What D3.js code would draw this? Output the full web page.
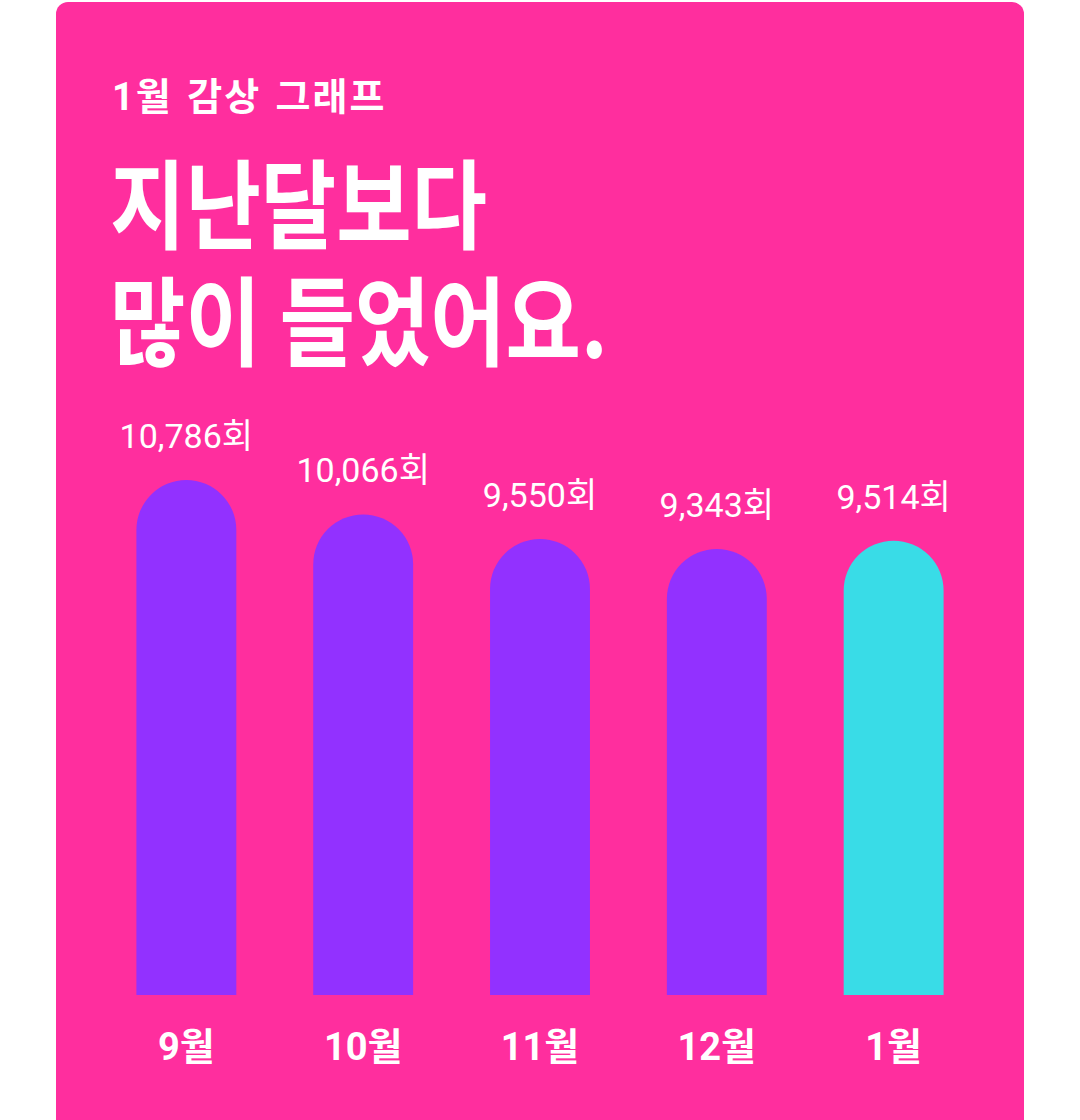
<!DOCTYPE html>
<html>
<head>
<meta charset="utf-8">
<script src="https://cdn.jsdelivr.net/npm/d3@7"></script>
<style>
  html, body { margin: 0; padding: 0; background: #ffffff; }
  svg { display: block; }
</style>
</head>
<body>
<svg id="chart" width="1080" height="1120"></svg>
<script>
const months = ["9월", "10월", "11월", "12월", "1월"];
const plays = [10786, 10066, 9550, 9343, 9514];
const highlight = [false, false, false, false, true];
const subtitle = "1월 감상 그래프";
const headline = ["지난달보다", "많이 들었어요."];
const unit = "회";

const svg = d3.select("#chart");
const pink = "#FF2E9E", purple = "#9231FF", cyan = "#39DCE7";

svg.append("rect").attr("x", 56).attr("y", 2).attr("width", 968).attr("height", 1140)
  .attr("rx", 12).attr("fill", pink);

svg.append("text").attr("x", 112).attr("y", 110)
  .attr("font-family", "Roboto, 'Noto Sans CJK KR', sans-serif")
  .attr("font-weight", 700).attr("font-size", 38).attr("letter-spacing", 2)
  .attr("word-spacing", 3).attr("fill", "#fff")
  .text(subtitle);

const head = svg.append("text")
  .attr("transform", "translate(110,241) scale(0.845,1)")
  .attr("font-family", "'Noto Sans CJK KR', sans-serif")
  .attr("font-weight", 700).attr("font-size", 97)
  .attr("fill", "#fff");
head.selectAll("tspan").data(headline).join("tspan")
  .attr("x", 0).attr("y", (d, i) => i * 117)
  .text(d => d);

const x = d3.scaleBand().domain(months).range([48, 1032]).paddingInner(0.435).paddingOuter(0.5);
const y = d3.scaleLinear().domain([0, d3.max(plays)]).range([995, 480]);

const data = months.map((m, i) => ({ m, v: plays[i], h: highlight[i] }));

function barPath(d) {
  const x0 = x(d.m), w = x.bandwidth(), r = w / 2, top = y(d.v), bottom = y(0);
  return `M${x0},${bottom}L${x0},${top + r}A${r},${r} 0 0 1 ${x0 + w},${top + r}L${x0 + w},${bottom}Z`;
}

svg.selectAll("path.bar").data(data).join("path").attr("class", "bar")
  .attr("d", barPath).attr("fill", d => d.h ? cyan : purple);

svg.selectAll("text.val").data(data).join("text").attr("class", "val")
  .attr("x", d => x(d.m) + x.bandwidth() / 2).attr("y", d => y(d.v) - 32)
  .attr("text-anchor", "middle")
  .attr("font-family", "Roboto, 'Noto Sans CJK KR', sans-serif")
  .attr("font-weight", 400).attr("font-size", 34).attr("fill", "#fff")
  .text(d => d3.format(",")(d.v) + unit);

svg.selectAll("text.mon").data(data).join("text").attr("class", "mon")
  .attr("x", d => x(d.m) + x.bandwidth() / 2).attr("y", 1060)
  .attr("text-anchor", "middle")
  .attr("font-family", "Roboto, 'Noto Sans CJK KR', sans-serif")
  .attr("font-weight", 700).attr("font-size", 38).attr("fill", "#fff")
  .text(d => d.m);
</script>
</body>
</html>
